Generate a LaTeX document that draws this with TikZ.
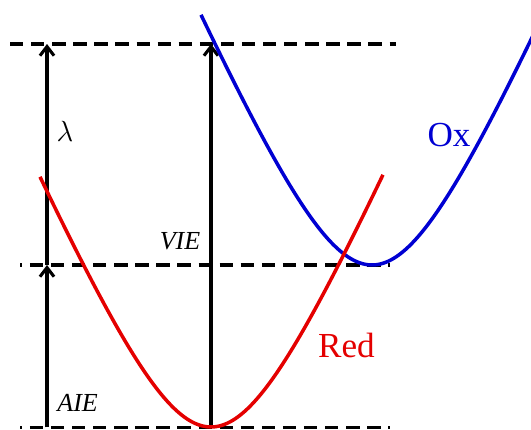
\documentclass[tikz,border=0pt]{standalone}
\usepackage{fontspec}
\setmainfont{Liberation Serif}
\usetikzlibrary{arrows.meta}
\definecolor{oxblue}{RGB}{0,0,210}
\definecolor{redred}{RGB}{228,0,0}

\begin{document}
\begin{tikzpicture}[>={Straight Barb[length=6.5pt,width=10pt]},
  eline/.style={line width=2.7pt,dash pattern=on 9.5pt off 5.5pt},
  ionarrow/.style={->,line width=2.2pt},
  well/.style={line width=2.5pt,domain=-4.275:4.3,samples=120,smooth},
  lbl/.style={font=\fontsize{18.5}{22}\selectfont\itshape},
  species/.style={font=\fontsize{25}{30}\selectfont}]
\useasboundingbox (0,0) rectangle (13.275,10.725);
% energy levels
\draw[eline] (0.25,9.625) -- (9.9,9.625);
\draw[eline,dash phase=8pt] (0.5,4.1) -- (9.75,4.1);
\draw[eline,dash phase=8pt] (0.5,0.04) -- (9.75,0.04);
\coordinate (atop) at (1.175,9.625);
\coordinate (amid) at (1.175,4.1);
\coordinate (abot) at (1.175,0.04);
\coordinate (vtop) at (5.275,9.625);
\coordinate (vbot) at (5.275,0.04);
\draw[ionarrow] (abot) -- (amid);
\draw[ionarrow] (amid) -- (atop);
\draw[ionarrow] (vbot) -- (vtop);
% wells
\begin{scope}
\clip (0,0) rectangle (13.275,10.725);
\draw[oxblue,well] plot ({9.3+\x},{4.1+2.3*(sqrt(\x*\x+4)-2)});
\end{scope}
\draw[redred,well] plot ({5.275+\x},{0.05+2.3*(sqrt(\x*\x+4)-2)});
% labels
\node[font=\fontsize{20}{24}\selectfont] (lam) at (1.625,7.45) {$\lambda$};
\node[lbl] (vie) at (4.5,4.7) {VIE};
\node[lbl] (aie) at (1.94,0.64) {AIE};
\node[species,text=oxblue] (ox) at (11.225,7.35) {Ox};
\node[species,text=redred] (red) at (8.66,2.1) {Red};
\end{tikzpicture}
\end{document}
